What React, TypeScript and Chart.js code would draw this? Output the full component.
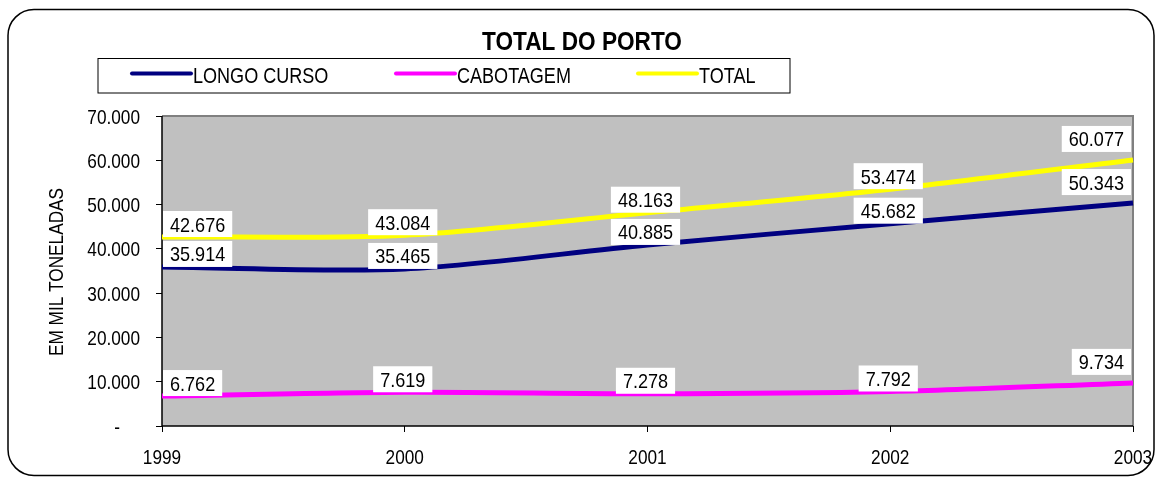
import React, { useEffect, useRef } from "react";
import { Chart, registerables } from "chart.js";

Chart.register(...registerables);

const years = ["1999", "2000", "2001", "2002", "2003"];
const longoCurso = [35914, 35465, 40885, 45682, 50343];
const cabotagem = [6762, 7619, 7278, 7792, 9734];
const total = [42676, 43084, 48163, 53474, 60077];
const seriesNames = ["LONGO CURSO", "CABOTAGEM", "TOTAL"];
const seriesColors = ["#000080", "#FF00FF", "#FFFF00"];
const chartTitle = "TOTAL DO PORTO";
const yTitle = "EM MIL TONELADAS";

const fmt = (v: number) => {
  if (v === 0) return "-";
  return Math.round(v).toString().replace(/\B(?=(\d{3})+(?!\d))/g, ".");
};

const FONT = "'Liberation Sans', Arial, sans-serif";

// narrow text emulation (horizontal compression of Liberation Sans)
function narrowText(
  ctx: CanvasRenderingContext2D,
  text: string,
  x: number,
  y: number,
  size: number,
  opts: { bold?: boolean; align?: CanvasTextAlign; sx?: number } = {}
) {
  ctx.save();
  ctx.translate(x, y);
  ctx.scale(opts.sx ?? 0.82, 1);
  ctx.font = `${opts.bold ? "bold " : ""}${size}px ${FONT}`;
  ctx.textAlign = opts.align ?? "left";
  ctx.textBaseline = "alphabetic";
  ctx.fillStyle = "#000";
  ctx.fillText(text, 0, 0);
  ctx.restore();
}

function narrowWidth(ctx: CanvasRenderingContext2D, text: string, size: number, sx: number) {
  ctx.save();
  ctx.font = `${size}px ${FONT}`;
  const w = ctx.measureText(text).width * sx;
  ctx.restore();
  return w;
}

const decorPlugin = {
  id: "decor",
  beforeDraw(chart: any) {
    const { ctx, chartArea: a } = chart;
    ctx.save();
    ctx.fillStyle = "#ffffff";
    ctx.fillRect(0, 0, chart.width, chart.height);
    // outer rounded border
    ctx.strokeStyle = "#000";
    ctx.lineWidth = 1.5;
    ctx.beginPath();
    (ctx as any).roundRect(8, 9.5, 1146, 466, 26);
    ctx.stroke();
    // plot background
    ctx.fillStyle = "#C0C0C0";
    ctx.fillRect(a.left, a.top, a.right - a.left, a.bottom - a.top);
    ctx.strokeStyle = "#808080";
    ctx.lineWidth = 2;
    ctx.beginPath();
    ctx.moveTo(a.left, a.top);
    ctx.lineTo(a.right, a.top);
    ctx.lineTo(a.right, a.bottom);
    ctx.stroke();
    ctx.strokeStyle = "#000";
    ctx.lineWidth = 1.5;
    ctx.beginPath();
    ctx.moveTo(a.left, a.top);
    ctx.lineTo(a.left, a.bottom);
    ctx.lineTo(a.right, a.bottom);
    ctx.stroke();
    // title
    narrowText(ctx, chartTitle, 582, 49.5, 26, { bold: true, align: "center", sx: 0.87 });
    // legend
    ctx.strokeStyle = "#000";
    ctx.lineWidth = 1;
    ctx.strokeRect(98, 58.5, 692, 34.5);
    const lx = [132, 396, 638];
    seriesNames.forEach((n, i) => {
      ctx.strokeStyle = seriesColors[i];
      ctx.lineWidth = 4;
      ctx.lineCap = "round";
      ctx.beginPath();
      ctx.moveTo(lx[i], 73.5);
      ctx.lineTo(lx[i] + 59, 73.5);
      ctx.stroke();
      narrowText(ctx, n, lx[i] + 61, 82.5, 22);
    });
    // y title
    ctx.save();
    ctx.translate(63, 272);
    ctx.rotate(-Math.PI / 2);
    narrowText(ctx, yTitle, 0, 0, 21, { align: "center" });
    ctx.restore();
    ctx.restore();
  },
  afterDraw(chart: any) {
    const { ctx } = chart;
    const ys = chart.scales.y;
    ys.ticks.forEach((t: any) => {
      const py = ys.getPixelForValue(t.value);
      const label = fmt(t.value);
      narrowText(ctx, label, t.value === 0 ? 120 : 140, py + 7.5, 21, { align: "right" });
    });
    const xs = chart.scales.x;
    xs.ticks.forEach((t: any, i: number) => {
      const px = xs.getPixelForTick(i);
      narrowText(ctx, String(chart.data.labels[i]), px, 464, 21, { align: "center" });
    });
  },
  afterDatasetsDraw(chart: any) {
    const { ctx, chartArea: a } = chart;
    const SZ = 21;
    const SX = 0.86;
    chart.data.datasets.forEach((ds: any, di: number) => {
      const meta = chart.getDatasetMeta(di);
      meta.data.forEach((pt: any, i: number) => {
        const txt = fmt(ds.data[i]);
        const w = narrowWidth(ctx, txt, SZ, SX) + 14;
        const h = 26;
        let x = pt.x - w / 2 - 2;
        if (x < a.left + 1) x = a.left + 1;
        if (x + w > a.right - 2) x = a.right - 2 - w;
        const isLast = i === meta.data.length - 1;
        const cy = pt.y - (isLast ? 21 : 13);
        ctx.save();
        ctx.fillStyle = "#fff";
        ctx.fillRect(x, cy - h / 2, w, h);
        ctx.restore();
        narrowText(ctx, txt, x + 7, cy + 7.5, SZ, { sx: SX });
      });
    });
  },
};

export default function App() {
  const ref = useRef<HTMLCanvasElement>(null);
  useEffect(() => {
    if (!ref.current) return;
    const mk = (label: string, data: number[], color: string) => ({
      label,
      data,
      borderColor: color,
      backgroundColor: color,
      borderWidth: 5,
      pointRadius: 0,
      tension: 0.3,
      fill: false,
    });
    const chart = new Chart(ref.current, {
      type: "line",
      data: {
        labels: years,
        datasets: [
          mk(seriesNames[0], longoCurso, seriesColors[0]),
          mk(seriesNames[1], cabotagem, seriesColors[1]),
          mk(seriesNames[2], total, seriesColors[2]),
        ],
      },
      options: {
        responsive: false,
        animation: false,
        layout: { padding: { left: 0, right: 22, top: 116, bottom: 0 } },
        plugins: {
          legend: { display: false },
          title: { display: false },
          tooltip: { enabled: false },
        },
        scales: {
          x: {
            offset: false,
            grid: {
              drawOnChartArea: false,
              drawTicks: true,
              tickLength: 6,
              color: "#000",
            },
            border: { display: false },
            ticks: { display: false, autoSkip: false },
            afterFit: (s: any) => {
              s.height = 52;
              s.paddingLeft = 0;
              s.paddingRight = 0;
            },
          },
          y: {
            min: 0,
            max: 70000,
            grid: {
              drawOnChartArea: false,
              drawTicks: true,
              tickLength: 6,
              color: "#000",
            },
            border: { display: false },
            ticks: { display: false, stepSize: 10000 },
            afterFit: (s: any) => {
              s.width = 162;
              s.paddingTop = 0;
              s.paddingBottom = 0;
            },
          },
        },
      },
      plugins: [decorPlugin],
    } as any);
    return () => chart.destroy();
  }, []);
  return (
    <div style={{ position: "fixed", left: 0, top: 0, width: 1155, height: 478 }}>
      <canvas ref={ref} width={1155} height={478} style={{ width: 1155, height: 478 }} />
    </div>
  );
}
